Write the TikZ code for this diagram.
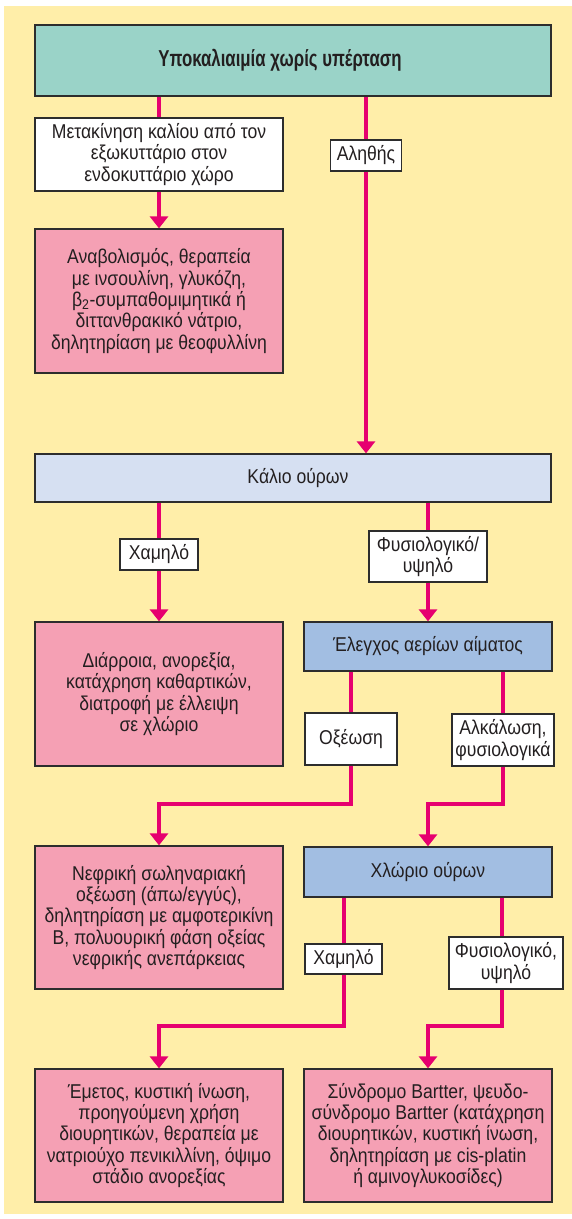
\documentclass[tikz,border=0pt]{standalone}
\usepackage{fontspec}
\setmainfont[FakeStretch=0.88]{Liberation Sans}
\newfontfamily\titlefont[FakeStretch=0.73]{Liberation Sans}
\usetikzlibrary{arrows.meta}
\definecolor{bgyellow}{HTML}{FFEEA9}
\definecolor{teal}{HTML}{9AD3C8}
\definecolor{lavender}{HTML}{D6E0F2}
\definecolor{bluebox}{HTML}{A2BEE2}
\definecolor{pinkbox}{HTML}{F5A0B4}
\definecolor{mag}{HTML}{E6006F}
\definecolor{edge}{HTML}{2D2D2D}
\definecolor{txt}{HTML}{231F20}
\begin{document}
\begin{tikzpicture}[x=1pt,y=-1pt,
  box/.style={draw=edge, line width=1.3pt, inner sep=0pt, align=center, text=txt,
    font=\fontsize{20}{21.3}\selectfont},
  wide/.style={box, minimum width=516pt},
  half/.style={box, minimum width=248pt},
  lbl/.style={box, fill=white},
  conn/.style={draw=mag, line width=4pt},
  arr/.style={conn, -{Triangle[width=18pt,length=12pt]}}]
\useasboundingbox (0,0) rectangle (572,1219);
\fill[bgyellow] (4,6) rectangle (572,1214);

% nodes
\node[wide, fill=teal, minimum height=71pt] (top) at (293,60.5)
  {\titlefont\fontsize{23}{24}\selectfont\bfseries Υποκαλιαιμία χωρίς υπέρταση\rule{26pt}{0pt}};
\node[half, fill=white, minimum height=73pt] (move) at (159,154.5)
  {Μετακίνηση καλίου από τον\\ εξωκυττάριο στον\\ ενδοκυττάριο χώρο};
\node[half, fill=pinkbox, minimum height=144pt] (anab) at (159,301)
  {Αναβολισμός, θεραπεία\\ με ινσουλίνη, γλυκόζη,\\ β\textsubscript{2}-συμπαθομιμητικά ή\\ διττανθρακικό νάτριο,\\ δηλητηρίαση με θεοφυλλίνη};
\node[lbl, minimum width=71pt, minimum height=31pt] (true) at (366,155.5) {Αληθής};
\node[wide, fill=lavender, minimum height=48pt] (kalio) at (293,478) {\rule{10pt}{0pt}Κάλιο ούρων};
\node[lbl, minimum width=78pt, minimum height=31pt] (low1) at (159,554.5) {Χαμηλό};
\node[lbl, minimum width=118pt, minimum height=51pt] (norm1) at (428,556.5) {Φυσιολογικό/\\ υψηλό};
\node[half, fill=pinkbox, minimum height=144pt] (diar) at (159,694)
  {Διάρροια, ανορεξία,\\ κατάχρηση καθαρτικών,\\ διατροφή με έλλειψη\\ σε χλώριο};
\node[half, fill=bluebox, minimum height=49pt] (abg) at (428,646.5) {Έλεγχος αερίων αίματος};
\node[lbl, minimum width=92pt, minimum height=52pt] (acid) at (351,739) {Οξέωση};
\node[lbl, minimum width=102pt, minimum height=52pt] (alk) at (503,740) {Αλκάλωση,\\ φυσιολογικά};
\node[half, fill=pinkbox, minimum height=143pt] (nephro) at (159,917.5)
  {Νεφρική σωληναριακή\\ οξέωση (άπω/εγγύς),\\ δηλητηρίαση με αμφοτερικίνη\\ Β, πολυουρική φάση οξείας\\ νεφρικής ανεπάρκειας};
\node[half, fill=bluebox, minimum height=50pt] (chlor) at (428,872) {Χλώριο ούρων};
\node[lbl, minimum width=77pt, minimum height=30pt] (low2) at (343.5,959) {Χαμηλό};
\node[lbl, minimum width=114pt, minimum height=52pt] (norm2) at (506,963) {Φυσιολογικό,\\ υψηλό};
\node[half, fill=pinkbox, minimum height=133pt] (vom) at (159,1135.5)
  {Έμετος, κυστική ίνωση,\\ προηγούμενη χρήση\\ διουρητικών, θεραπεία με\\ νατριούχο πενικιλλίνη, όψιμο\\ στάδιο ανορεξίας};
\node[half, fill=pinkbox, minimum height=133pt] (bart) at (428,1135.5)
  {Σύνδρομο Bartter, ψευδο-\\ σύνδρομο Bartter (κατάχρηση\\ διουρητικών, κυστική ίνωση,\\ δηλητηρίαση με cis-platin\\ ή αμινογλυκοσίδες)};

\coordinate (bendA) at (0,804);
\coordinate (bendB) at (0,1026);
\coordinate (xr) at (502,0);

% connectors
\draw[conn] (top.south -| move) -- (move.north);
\draw[arr] (move) -- (anab.north);
\draw[conn] (top.south -| true) -- (true.north);
\draw[arr] (true) -- (true |- kalio.north);
\draw[conn] (kalio.south -| low1) -- (low1.north);
\draw[arr] (low1) -- (diar.north);
\draw[conn] (kalio.south -| norm1) -- (norm1.north);
\draw[arr] (norm1) -- (abg.north);
\draw[conn] (abg.south -| acid) -- (acid.north);
\draw[arr] (acid.south) -- (acid.south |- bendA) -| (nephro.north);
\draw[conn] (abg.south -| alk) -- (alk.north);
\draw[arr] (alk.south) -- (alk.south |- bendA) -| (chlor.north);
\draw[conn] (chlor.south -| low2) -- (low2.north);
\draw[arr] (low2.south) -- (low2.south |- bendB) -| (vom.north);
\draw[conn] (chlor.south -| xr) -- (norm2.north -| xr);
\draw[arr] (norm2.south -| xr) -- (xr |- bendB) -| (bart.north);
\end{tikzpicture}
\end{document}
